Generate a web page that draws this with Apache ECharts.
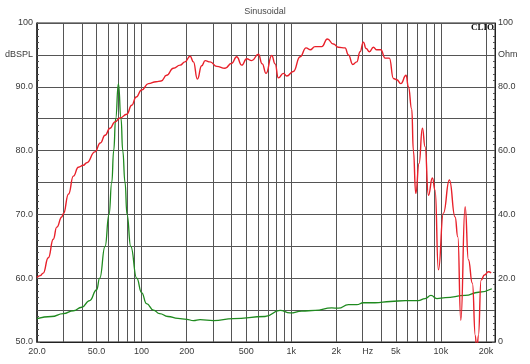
<!DOCTYPE html>
<html>
<head>
<meta charset="utf-8">
<script src="https://cdn.jsdelivr.net/npm/echarts@6/dist/echarts.min.js"></script>
<style>
html,body{margin:0;padding:0;background:#fff;}
#chart{width:530px;height:364px;}
</style>
</head>
<body>
<div id="chart"></div>
<script>
// SPL response (red, left axis dBSPL)
const splFreq = [20,21,22,23.8,25.7,27.1,29.3,30,32.5,35,37.8,40.8,43,48.8,53,57,61.5,66.4,71.8,79.6,85.9,92,100,111,125,135,147,163,181,195,211,222,236,252,266,287,318,361,400,432,467,504,545,603,640,679,741,780,820,886,933,1033,1146,1257,1337,1443,1600,1744,1912,2065,2289,2410,2578,2741,2885,3035,3165,3330,3540,3731,3967,4240,4529,4815,5075,5397,5856,6066,6389,6549,6795,7151,7525,7845,8254,8779,9152,9627,10395,11402,12449,12979,13590,14521,15276,16240,17000,17385,17800,18578,19545,20786,21673];
const splDb = [60.1,60.4,60.8,63.2,66.1,68.0,69.6,70.1,73.2,76.0,77.4,77.7,78.1,79.8,81.2,82.4,83.5,84.5,85.1,85.7,87.1,88.4,89.5,90.5,90.8,90.9,91.8,92.9,93.4,93.9,94.8,93.9,91.2,93.3,94.1,93.9,93.2,92.9,93.7,94.7,93.4,94.4,94.1,95.1,93.6,92.1,94.9,93.6,91.4,92.1,91.7,92.4,94.7,96.1,95.8,96.3,96.3,97.5,96.7,96.2,96.1,95.0,93.5,93.9,95.5,97.0,96.0,95.5,96.2,95.8,95.8,94.5,94.5,91.3,91.1,90.5,91.8,90.0,86.5,80.0,73.3,78.0,83.5,80.6,73.0,75.7,73.8,61.3,70.2,75.4,69.6,66.5,53.4,71.2,62.9,59.2,51.0,48.0,51.0,59.7,60.5,61.0,60.8];

// Impedance (green, right axis Ohm)
const zFreq = [20,25,30,35,39.8,45,50,52.5,57,60.6,63.2,65.1,67.1,70,72.9,74.8,77.5,79.9,84.6,92.8,100,108,120,132,150,175,200,222,246,302,410,668,842,982,1176,1443,1866,2065,2410,2741,3035,3630,4600,5780,7050,7845,8590,9400,10700,14521,17860,21900];
const zOhm = [7.3,8.0,8.9,9.8,10.9,13.0,16.3,20,30,40,50,60,70,81,70,60,50,40,30,20,15.5,12.0,10.0,8.9,8.0,7.4,7.1,6.7,7.0,6.7,7.3,8.0,9.9,9.1,9.7,9.9,10.7,10.6,11.7,11.7,12.3,12.3,12.7,13.0,13.0,13.6,14.6,13.6,13.9,14.6,15.6,16.7];

// Axis ticks / labels
const xGridFreqs = [20,30,40,50,60,70,80,90,100,200,300,400,500,600,700,800,900,1000,2000,3000,4000,5000,6000,7000,8000,9000,10000,20000];
const xLabelFreqs = [20,50,100,200,500,1000,2000,3000,5000,10000,20000];
const xLabelTexts = ['20.0','50.0','100','200','500','1k','2k','Hz','5k','10k','20k'];
const leftTickValues = [100,95,90,80,70,60,50];
const leftTickTexts = ['100','dBSPL','90.0','80.0','70.0','60.0','50.0'];
const rightTickValues = [100,90,80,60,40,20,0];
const rightTickTexts = ['100','Ohm','80.0','60.0','40.0','20.0','0'];

const zip = (a, b) => a.map((v, i) => [v, b[i]]);
const lookup = (vals, texts) => v => {
  const i = vals.findIndex(x => Math.abs(x - v) < 1e-6);
  return i >= 0 ? texts[i] : '';
};
const xFormatter = v => {
  const t = lookup(xLabelFreqs, xLabelTexts)(v);
  return t === 'Hz' ? '{hz|Hz}' : t;
};

const FONT = 'Liberation Sans, Arial, sans-serif';
const labelStyle = {fontFamily: FONT, fontSize: 9, color: '#3a3a3a'};
const gridColor = '#555555';

const chart = echarts.init(document.getElementById('chart'), null, {renderer: 'canvas'});
chart.setOption({
  animation: false,
  backgroundColor: '#ffffff',
  title: {
    text: 'Sinusoidal', left: 'center', top: 2,
    textStyle: {fontFamily: FONT, fontSize: 9, fontWeight: 'normal', color: '#4a4a4a'}
  },
  graphic: [{
    type: 'text', right: 36, top: 23, z: 10,
    style: {text: 'CLIO', fontFamily: 'Liberation Serif, Times New Roman, serif', fontWeight: 'bold', fontSize: 9, fill: '#111'}
  }],
  grid: {left: 37, right: 35, top: 23, bottom: 22, show: true, borderColor: '#222', borderWidth: 1, backgroundColor: '#fff'},
  xAxis: {
    type: 'log', min: 20, max: 23000, logBase: 10,
    axisLine: {show: true, lineStyle: {color: '#222', width: 1}},
    axisTick: {show: false, customValues: xGridFreqs},
    axisLabel: Object.assign({customValues: xLabelFreqs, margin: 5, formatter: xFormatter, showMinLabel: true, showMaxLabel: true, hideOverlap: false,
      rich: {hz: {fontFamily: FONT, fontSize: 9, color: '#3a3a3a', padding: [0, 0, 0, 10]}}}, labelStyle),
    splitLine: {show: true, lineStyle: {color: gridColor, width: 1}},
    minorTick: {show: false}, minorSplitLine: {show: false}
  },
  yAxis: [{
    type: 'value', min: 50, max: 100, interval: 5, position: 'left',
    axisLine: {show: true, lineStyle: {color: '#222', width: 1.5}},
    axisTick: {show: true, inside: true, length: 3, lineStyle: {color: '#555'}},
    minorTick: {show: true, splitNumber: 5, length: 2, lineStyle: {color: '#555'}},
    axisLabel: Object.assign({margin: 4, formatter: lookup(leftTickValues, leftTickTexts)}, labelStyle),
    splitLine: {show: true, lineStyle: {color: gridColor, width: 1}}
  }, {
    type: 'value', min: 0, max: 100, interval: 10, position: 'right',
    axisLine: {show: true, lineStyle: {color: '#222', width: 1}},
    axisTick: {show: true, inside: true, length: 3, lineStyle: {color: '#555'}},
    minorTick: {show: true, splitNumber: 5, length: 2, lineStyle: {color: '#555'}},
    axisLabel: Object.assign({margin: 3, formatter: lookup(rightTickValues, rightTickTexts)}, labelStyle),
    splitLine: {show: false}
  }],
  series: [{
    name: 'Impedance', type: 'line', yAxisIndex: 1, data: zip(zFreq, zOhm),
    showSymbol: false, smooth: 0.5, smoothMonotone: 'x', clip: true,
    lineStyle: {color: '#1f8a1f', width: 1.3}, z: 3
  }, {
    name: 'SPL', type: 'line', yAxisIndex: 0, data: zip(splFreq, splDb),
    showSymbol: false, smooth: 0.5, smoothMonotone: 'x', clip: true,
    lineStyle: {color: '#e8202a', width: 1.4}, z: 4
  }]
});
</script>
</body>
</html>
